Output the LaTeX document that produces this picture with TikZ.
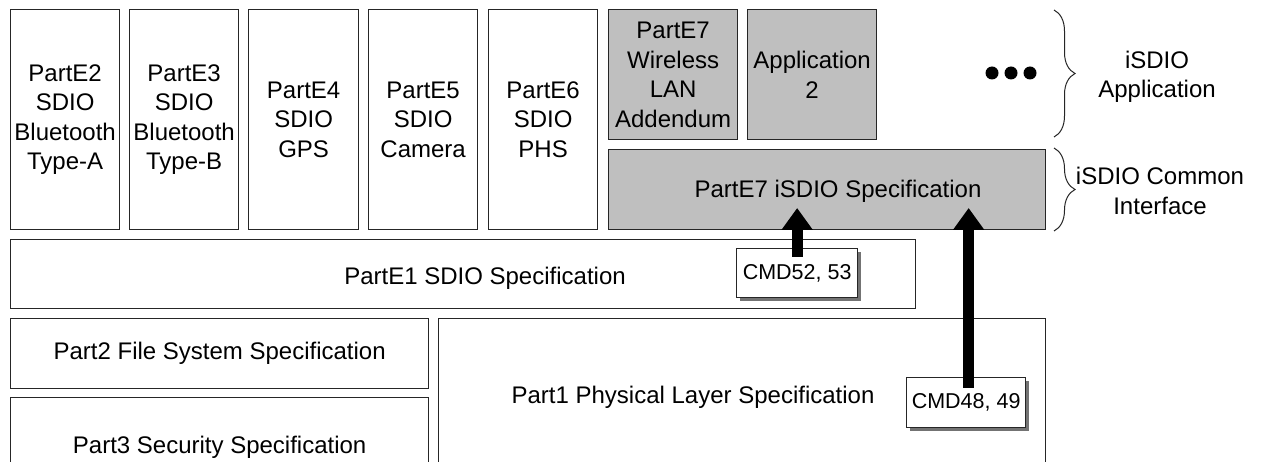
\documentclass[tikz,border=0pt]{standalone}
\usepackage{fontspec}
\setmainfont{Liberation Sans}
\usetikzlibrary{arrows.meta,decorations.pathreplacing,shadows}
\begin{document}
\begin{tikzpicture}[x=1pt,y=-1pt,
  box/.style={draw=black!85, line width=1.3pt, fill=white, inner sep=0pt, anchor=north west, align=center, font=\fontsize{24}{29.5}\selectfont},
  greybox/.style={box, fill=black!25},
  lbl/.style={inner sep=0pt, align=center, font=\fontsize{24}{29.5}\selectfont},
  cmdbox/.style={draw=black!85, line width=1.3pt, fill=white, minimum width=121pt, minimum height=49pt, anchor=north west, inner sep=0pt, font=\fontsize{21.5}{24}\selectfont, drop shadow={shadow xshift=3pt, shadow yshift=-3pt, fill=black!55, opacity=1}},
  bigarrow/.style={line width=11pt, -{Triangle[width=30pt,length=22pt]}},
  curly/.style={decorate, decoration={brace, amplitude=21pt}, line width=1pt, draw=black!85},
  dotmark/.style={circle, fill=black, inner sep=0pt, minimum size=13pt}
]
\clip (0,0) rectangle (1262,462);
\fill[white] (0,0) rectangle (1262,462);
% top columns
\node[box, minimum width=109pt, minimum height=220pt] (e2) at (10,9) {PartE2\\SDIO\\Bluetooth\\Type-A};
\node[box, minimum width=109pt, minimum height=220pt] (e3) at (129,9) {PartE3\\SDIO\\Bluetooth\\Type-B};
\node[box, minimum width=110pt, minimum height=220pt] (e4) at (248,9) {PartE4\\SDIO\\GPS};
\node[box, minimum width=109pt, minimum height=220pt] (e5) at (368,9) {PartE5\\SDIO\\Camera};
\node[box, minimum width=109pt, minimum height=220pt] (e6) at (488,9) {PartE6\\SDIO\\PHS};
\node[greybox, minimum width=129pt, minimum height=130pt] (e7w) at (608,9) {PartE7\\Wireless\\LAN\\Addendum};
\node[greybox, minimum width=129pt, minimum height=130pt] (app2) at (747,9) {Application\\2};
% iSDIO spec
\node[greybox, minimum width=437pt, minimum height=80pt] (spec) at (608,149) {};
\node[lbl] (spect) at (838,191) {PartE7 iSDIO Specification};
% PartE1
\node[box, minimum width=905pt, minimum height=69pt] (e1) at (10,239) {};
\node[lbl] (e1t) at (485,278) {PartE1 SDIO Specification};
% bottom
\node[box, minimum width=418pt, minimum height=70pt] (p2) at (10,318) {Part2 File System Specification};
\node[box, minimum width=418pt, minimum height=100pt] (p3) at (10,397) {Part3 Security Specification};
\node[box, minimum width=607pt, minimum height=160pt] (p1) at (438,318) {};
\node[lbl] (p1t) at (693,397) {Part1 Physical Layer Specification};
% CMD boxes
\node[cmdbox] (c52) at (736,248) {CMD52, 53};
\node[cmdbox, minimum width=119pt, minimum height=50pt] (c48) at (906,377) {CMD48, 49};
% arrows
\draw[bigarrow] ([yshift=-9pt]c52.north) -- ([yshift=40pt]c52.north);
\draw[bigarrow] ([xshift=2.5pt,yshift=-11pt]c48.north) -- ([xshift=2.5pt,yshift=169pt]c48.north);
% dots
\node[dotmark] (d1) at (992,73) {};
\node[dotmark] (d2) at (1011,73) {};
\node[dotmark] (d3) at (1030,73) {};
% braces
\coordinate (b1a) at (1054,10);
\coordinate (b1b) at (1054,137);
\coordinate (b2a) at (1054,148);
\coordinate (b2b) at (1054,231);
\draw[curly] (b1a) -- (b1b);
\draw[curly] (b2a) -- (b2b);
\node[lbl] (appl) at (1157,77) {iSDIO\\Application};
\node[lbl] (cil) at (1160,191) {iSDIO Common\\Interface};
\end{tikzpicture}
\end{document}
